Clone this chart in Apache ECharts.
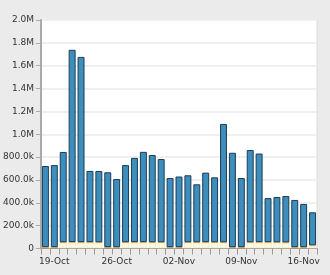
<!DOCTYPE html>
<html><head><meta charset="utf-8">
<script src="https://cdn.jsdelivr.net/npm/echarts@6/dist/echarts.min.js"></script>
<style>html,body{margin:0;padding:0;background:#ebebeb}#c{width:330px;height:275px}</style>
</head><body><div id="c"></div>
<script>
const categories = ['18-Oct','19-Oct','20-Oct','21-Oct','22-Oct','23-Oct','24-Oct','25-Oct','26-Oct','27-Oct','28-Oct','29-Oct','30-Oct','31-Oct','01-Nov','02-Nov','03-Nov','04-Nov','05-Nov','06-Nov','07-Nov','08-Nov','09-Nov','10-Nov','11-Nov','12-Nov','13-Nov','14-Nov','15-Nov','16-Nov','17-Nov'];
const brownValues = [12000,12000,3000,3000,3000,3000,3000,12000,12000,3000,3000,3000,3000,3000,12000,12000,3000,3000,3000,3000,3000,12000,12000,3000,3000,3000,3000,3000,12000,12000,3000];
const creamValues = [0,0,45000,47000,46000,46000,45000,0,0,45000,46000,46000,45000,45000,0,0,45000,45000,46000,45000,45000,0,0,45000,46000,46000,45000,44000,0,0,20000];
const orangeValues = [0,0,7000,7000,7000,7000,7000,0,0,7000,7000,7000,7000,7000,0,0,7000,7000,7000,7000,7000,0,0,7000,7000,7000,7000,7000,0,0,5000];
const blueValues = [710000,718000,790000,1682000,1621000,623000,623000,655000,596000,675000,737000,790000,763000,728000,605000,618000,586000,507000,608000,568000,1035000,826000,605000,807000,775000,385000,396000,405000,413000,378000,289000];
const yTicks = {min:0, max:2000000, interval:200000};

function fmt(v){ if(v===0) return '0'; if(v>=1e6) return (v/1e6).toFixed(1)+'M'; return (v/1e3).toFixed(1)+'k'; }
const font = {fontFamily:'DejaVu Sans', fontSize:9, color:'#333'};
const chart = echarts.init(document.getElementById('c'), null, {renderer:'canvas'});
const common = {type:'bar', stack:'t', barCategoryGap:'22%', animation:false};
chart.setOption({
  backgroundColor:'#ebebeb',
  animation:false,
  grid:{left:37, right:13, top:20, bottom:26.5, show:true, backgroundColor:'#fff', borderColor:'#dcdcdc', borderWidth:1},
  xAxis:{type:'category', data:categories, boundaryGap:true,
    axisLine:{lineStyle:{color:'#aaa', width:1}},
    axisTick:{show:true, interval:0, alignWithLabel:false, length:6, lineStyle:{color:'#999'}},
    axisLabel:Object.assign({interval:function(i){return i%7===1;}, margin:9}, font),
    splitLine:{show:false}},
  yAxis:{type:'value', min:yTicks.min, max:yTicks.max, interval:yTicks.interval,
    axisLine:{show:true, lineStyle:{color:'#aaa', width:2}},
    axisTick:{show:true, length:5, lineStyle:{color:'#aaa'}},
    axisLabel:Object.assign({formatter:fmt, margin:7}, font),
    splitLine:{lineStyle:{color:'#efefef', width:2}}},
  series:[
    Object.assign({name:'a', data:brownValues, itemStyle:{color:'#a8793a'}}, common),
    Object.assign({name:'b', data:creamValues, itemStyle:{color:'#fffbe0', borderColor:'#e6dcb0', borderWidth:0.5}}, common),
    Object.assign({name:'c', data:orangeValues, itemStyle:{color:'#d9a04a'}}, common),
    Object.assign({name:'d', data:blueValues, itemStyle:{color:'#3d8dbd', borderColor:'#1c3d55', borderWidth:1}}, common)
  ]
});
</script></body></html>
